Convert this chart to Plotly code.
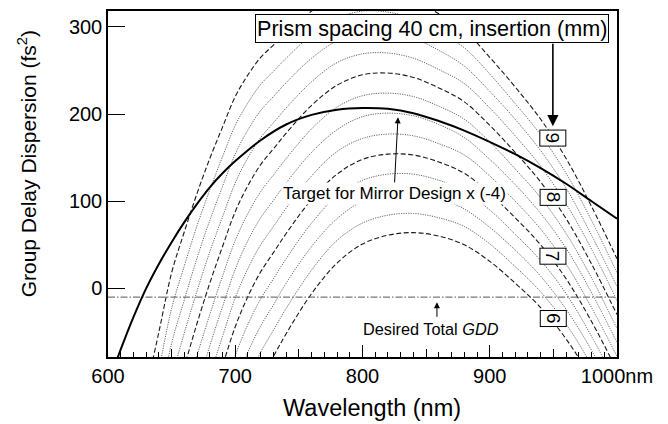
import plotly.graph_objects as go

# ---------------- data ----------------
wavelength = [630, 640, 650, 660, 670, 680, 690, 700, 710, 720, 730, 740,
              760, 780, 800, 820, 840, 860, 880, 900, 920, 940, 960, 980, 1000]

gdd_6_00 = [-650, -560, -468, -400, -338, -280, -226, -176, -136, -104, -78, -52, -6, 29, 51, 61, 64, 60, 50, 31, 6, -22, -58, -104, -158]
gdd_6_25 = [-606, -518, -428, -361, -301, -244, -192, -143, -104, -73, -48, -23, 21, 55, 75, 84, 86, 81, 71, 51, 25, -4, -41, -88, -142]
gdd_6_50 = [-561, -475, -387, -323, -264, -209, -158, -110, -73, -43, -19, 6, 48, 80, 100, 108, 109, 103, 91, 70, 44, 14, -24, -71, -126]
gdd_6_75 = [-517, -433, -347, -284, -226, -173, -123, -77, -41, -12, 11, 34, 75, 106, 124, 131, 131, 124, 112, 90, 62, 32, -6, -55, -110]
gdd_7_00 = [-472, -390, -306, -245, -189, -137, -89, -44, -9, 19, 41, 63, 102, 131, 148, 154, 153, 145, 132, 109, 81, 50, 11, -38, -94]
gdd_7_25 = [-428, -348, -266, -206, -152, -101, -55, -11, 23, 50, 71, 92, 129, 157, 172, 177, 175, 166, 153, 129, 100, 68, 28, -22, -78]
gdd_7_50 = [-383, -305, -225, -168, -115, -66, -21, 22, 55, 81, 101, 121, 156, 182, 197, 201, 198, 188, 173, 148, 119, 86, 46, -5, -62]
gdd_7_75 = [-339, -263, -185, -129, -77, -30, 14, 55, 86, 111, 130, 149, 183, 208, 221, 224, 220, 209, 194, 168, 137, 104, 63, 12, -46]
gdd_8_00 = [-294, -220, -144, -90, -40, 6, 48, 88, 118, 142, 160, 178, 210, 233, 245, 247, 242, 230, 214, 187, 156, 122, 80, 28, -30]
gdd_8_25 = [-250, -178, -104, -51, -3, 42, 82, 121, 150, 173, 190, 207, 237, 259, 269, 270, 264, 251, 235, 207, 175, 140, 97, 45, -14]
gdd_8_50 = [-205, -135, -63, -13, 35, 78, 117, 154, 182, 204, 220, 236, 264, 284, 294, 294, 287, 273, 255, 226, 194, 158, 115, 61, 2]
gdd_8_75 = [-161, -93, -23, 26, 72, 113, 151, 187, 213, 234, 249, 264, 291, 310, 318, 317, 309, 294, 276, 246, 212, 176, 132, 78, 18]
gdd_9_00 = [-116, -50, 18, 65, 109, 149, 185, 220, 245, 265, 279, 293, 318, 335, 342, 340, 331, 315, 296, 265, 231, 194, 149, 94, 34]

insertion_curves = [gdd_6_00, gdd_6_25, gdd_6_50, gdd_6_75, gdd_7_00, gdd_7_25, gdd_7_50,
                    gdd_7_75, gdd_8_00, gdd_8_25, gdd_8_50, gdd_8_75, gdd_9_00]
insertion_mm = [6.0, 6.25, 6.5, 6.75, 7.0, 7.25, 7.5, 7.75, 8.0, 8.25, 8.5, 8.75, 9.0]

target_wl = [605, 610, 620, 630, 640, 650, 660, 670, 680, 690, 700, 720, 740, 760,
             780, 800, 820, 840, 860, 880, 900, 920, 940, 960, 980, 1000]
target_gdd = [-90, -70, -33, 0, 28, 53, 76, 97, 116, 132, 146, 170, 188, 199,
              205, 207, 206, 201, 192, 181, 168, 154, 138, 120, 100, 80]

desired_total_gdd = -10

x_ticks = [600, 700, 800, 900, 1000]
x_ticktext = ["600", "700", "800", "900", "1000nm"]
y_ticks = [0, 100, 200, 300]

label_mm = ["9", "8", "7", "6"]
label_gdd = [172, 104, 36.5, -35]
label_wl = 949.6

# ---------------- figure ----------------
FONT = "Liberation Sans, Arial, Helvetica, sans-serif"
x_range = [600, 1000]
y_range = [-78.7, 318.2]

fig = go.Figure()

for mm, vals in zip(insertion_mm, insertion_curves):
    integer = abs(mm - round(mm)) < 1e-9
    fig.add_trace(go.Scatter(
        x=wavelength, y=vals, mode="lines", line_shape="spline",
        line=dict(color="#1a1a1a" if integer else "#555555",
                  width=1.1 if integer else 0.9,
                  dash="5px,2.5px" if integer else "1.2px,1.2px"),
        showlegend=False, hoverinfo="skip"))

fig.add_trace(go.Scatter(
    x=x_range, y=[desired_total_gdd, desired_total_gdd], mode="lines",
    line=dict(color="#555555", width=1, dash="7px,2px,1.5px,2px"),
    showlegend=False, hoverinfo="skip"))

fig.add_trace(go.Scatter(
    x=target_wl, y=target_gdd, mode="lines", line_shape="spline",
    line=dict(color="black", width=2),
    showlegend=False, hoverinfo="skip"))

# dummy trace for the secondary tick axis (50 nm ticks)
fig.add_trace(go.Scatter(x=[None], y=[None], xaxis="x2", showlegend=False, hoverinfo="skip"))

annotations = []
# header box
annotations.append(dict(x=855, y=297.7, xref="x", yref="y", text="Prism spacing 40 cm, insertion (mm)",
                        showarrow=False, font=dict(family=FONT, size=21.6, color="black"),
                        bgcolor="white", bordercolor="black", borderwidth=1, borderpad=1))
# arrow from header to label 9
annotations.append(dict(x=label_wl, y=186, xref="x", yref="y", text="", showarrow=True,
                        ax=0, ay=-84, arrowhead=2, arrowsize=1.4, arrowwidth=1.6, arrowcolor="black"))
# insertion labels
for t, g in zip(label_mm, label_gdd):
    annotations.append(dict(x=label_wl, y=g, xref="x", yref="y", text=t, textangle=90,
                            showarrow=False, font=dict(family=FONT, size=19, color="black"),
                            bgcolor="white", bordercolor="black", borderwidth=1, borderpad=2))
# target text with its arrow (text centre sits 4 px left of and 76 px below the tip)
annotations.append(dict(x=827.9, y=196.2, xref="x", yref="y", text="Target for Mirror Design x (-4)",
                        showarrow=True, ax=-4, ay=76, arrowhead=2, arrowsize=1.2, arrowwidth=1,
                        arrowcolor="black", standoff=0,
                        font=dict(family=FONT, size=17, color="black"), bgcolor="white"))
# desired total GDD text & arrow
annotations.append(dict(x=853.8, y=-46.2, xref="x", yref="y", text="Desired Total <i>GDD</i>",
                        showarrow=False, font=dict(family=FONT, size=16.3, color="black")))
annotations.append(dict(x=858.5, y=-16, xref="x", yref="y", text="", showarrow=True,
                        ax=0, ay=16, arrowhead=2, arrowsize=1.2, arrowwidth=1, arrowcolor="black"))
# axis titles
annotations.append(dict(x=-0.159, y=0.557, xref="paper", yref="paper", text="Group Delay Dispersion (fs<sup>2</sup>)",
                        textangle=-90, showarrow=False, font=dict(family=FONT, size=21, color="black"),
                        xanchor="center", yanchor="middle"))
annotations.append(dict(x=0.5196, y=-0.1466, xref="paper", yref="paper", text="Wavelength (nm)",
                        showarrow=False, font=dict(family=FONT, size=23.5, color="black"),
                        xanchor="center", yanchor="middle"))

fig.update_layout(
    width=668, height=424,
    margin=dict(l=108, r=51, t=9, b=67),
    paper_bgcolor="white", plot_bgcolor="white",
    font=dict(family=FONT, color="black"),
    annotations=annotations,
    xaxis=dict(range=x_range, tickvals=x_ticks, ticktext=x_ticktext, ticks="inside",
               ticklen=12, tickwidth=1.2, tickcolor="black",
               minor=dict(dtick=10, tick0=600, ticks="inside", ticklen=5, tickwidth=1, tickcolor="black"),
               showline=True, linewidth=1.5, linecolor="black", mirror=True,
               showgrid=False, zeroline=False, tickfont=dict(size=20, family=FONT)),
    xaxis2=dict(range=x_range, overlaying="x", anchor="y", side="bottom",
                tickvals=[650, 750, 850, 950], ticks="inside", ticklen=8, tickwidth=1, tickcolor="black",
                showticklabels=False, showline=False, showgrid=False, zeroline=False),
    yaxis=dict(range=y_range, tickvals=y_ticks, ticks="inside", ticklen=17, tickwidth=1.2,
               tickcolor="black", showline=True, linewidth=1.5, linecolor="black", mirror=True,
               showgrid=False, zeroline=False, tickfont=dict(size=20, family=FONT)),
)

fig.write_html("out.html")
